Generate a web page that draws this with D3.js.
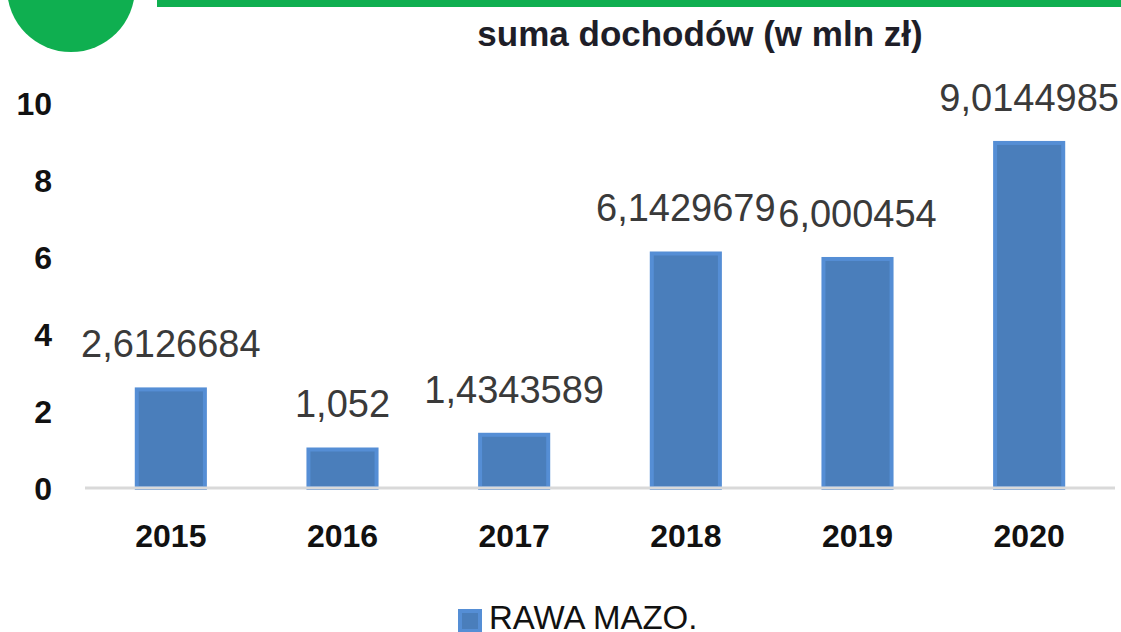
<!DOCTYPE html>
<html>
<head>
<meta charset="utf-8">
<script src="https://cdn.jsdelivr.net/npm/d3@7"></script>
<style>
  body { margin: 0; background: #fff; }
  svg { display: block; font-family: "Liberation Sans", Arial, sans-serif; }
</style>
</head>
<body>
<svg id="svg0" width="1121" height="632"></svg>
<script>
// data
var years = ['2015', '2016', '2017', '2018', '2019', '2020'];
var values = [2.6126684, 1.052, 1.4343589, 6.1429679, 6.000454, 9.0144985];
var valueLabels = ['2,6126684', '1,052', '1,4343589', '6,1429679', '6,000454', '9,0144985'];
var yTicks = [0, 2, 4, 6, 8, 10];
var seriesName = 'RAWA MAZO.';
var title = 'suma dochodów (w mln zł)';

var width = 1121;
var height = 632;

var svg0 = d3.select('#svg0');

// green decoration at top
svg0.append('circle')
    .attr('cx', 71)
    .attr('cy', -12)
    .attr('r', 64)
    .attr('fill', '#0faf50');

svg0.append('rect')
    .attr('x', 157)
    .attr('y', 0)
    .attr('width', width - 157)
    .attr('height', 7)
    .attr('fill', '#0faf50');

svg0.append('text')
    .attr('x', 700)
    .attr('y', 46)
    .attr('text-anchor', 'middle')
    .attr('font-size', 35)
    .attr('font-weight', 'bold')
    .attr('fill', '#1e1e28')
    .text(title);

var x = d3.scaleBand()
    .domain(years)
    .range([85, 1115])
    .paddingInner(0.58)
    .paddingOuter(0.29);

var y = d3.scaleLinear()
    .domain([0, 10])
    .range([488, 103]);

// y tick labels (no axis line)
svg0.selectAll('.ytick')
    .data(yTicks)
    .enter()
    .append('text')
    .attr('class', 'ytick')
    .attr('x', 52)
    .attr('y', function(d){ return y(d) + 12; })
    .attr('text-anchor', 'end')
    .attr('font-size', 32)
    .attr('font-weight', 'bold')
    .attr('fill', '#111')
    .text(function(d){ return d; });

// bars
svg0.selectAll('.bar')
    .data(values)
    .enter()
    .append('rect')
    .attr('class', 'bar')
    .attr('x', function(d, i){ return x(years[i]) + 2; })
    .attr('y', function(d){ return y(d) + 2; })
    .attr('width', x.bandwidth() - 4)
    .attr('height', function(d){ return y(0) - y(d) - 2; })
    .attr('fill', '#4a7ebb')
    .attr('stroke', '#558ed5')
    .attr('stroke-width', 4);

// baseline
svg0.append('line')
    .attr('x1', 85)
    .attr('x2', 1115)
    .attr('y1', y(0))
    .attr('y2', y(0))
    .attr('stroke', '#d9d9d9')
    .attr('stroke-width', 3);

// value labels
svg0.selectAll('.vlabel')
    .data(values)
    .enter()
    .append('text')
    .attr('class', 'vlabel')
    .attr('x', function(d, i){ return x(years[i]) + x.bandwidth() / 2; })
    .attr('y', function(d){ return y(d) - 30; })
    .attr('text-anchor', 'middle')
    .attr('font-size', 38)
    .attr('fill', '#3a3a3a')
    .text(function(d, i){ return valueLabels[i]; });

// x labels
svg0.selectAll('.xlabel')
    .data(years)
    .enter()
    .append('text')
    .attr('class', 'xlabel')
    .attr('x', function(d){ return x(d) + x.bandwidth() / 2; })
    .attr('y', 547)
    .attr('text-anchor', 'middle')
    .attr('font-size', 32)
    .attr('font-weight', 'bold')
    .attr('fill', '#111')
    .text(function(d){ return d; });

// legend
svg0.append('rect')
    .attr('x', 460)
    .attr('y', 611)
    .attr('width', 20)
    .attr('height', 20)
    .attr('fill', '#4a7ebb')
    .attr('stroke', '#558ed5')
    .attr('stroke-width', 4);

svg0.append('text')
    .attr('x', 489)
    .attr('y', 629)
    .attr('font-size', 33)
    .attr('fill', '#111')
    .text(seriesName);
</script>
</body>
</html>
